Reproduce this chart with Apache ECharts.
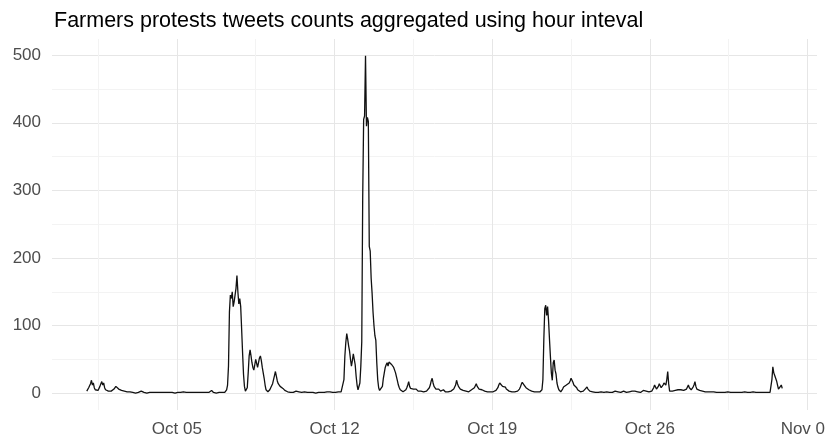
<!DOCTYPE html>
<html>
<head>
<meta charset="utf-8">
<script src="https://cdn.jsdelivr.net/npm/echarts@6/dist/echarts.min.js"></script>
<style>
  html, body { margin: 0; padding: 0; background: #ffffff; }
  #chart { width: 825px; height: 439px; }
</style>
</head>
<body>
<div id="chart"></div>
<script>
// ---- data (hourly tweet counts, UTC) ----
const chartTitle = 'Farmers protests tweets counts aggregated using hour inteval';
const startYear = 2020, startMonth = 9, startDay = 1; // Oct 1 00:00 UTC

const oct01 = [3,5,8,10,14,19,12,15,8,5,4,3,4,6,10,14,17,12,15,8,5,4,3,3];
const oct02 = [3,2,3,2,4,6,8,10,12,9,6,5,5,4,4,3,3,2,2,2,3,2,2,1];
const oct03 = [2,1,1,1,0,1,1,1,1,2,3,4,2,1,1,1,0,1,1,1,1,0,1,1];
const oct04 = [1,1,0,1,1,1,0,1,1,1,1,1,0,1,1,1,1,0,1,1,1,1,0,1];
const oct05 = [1,1,0,1,1,1,1,2,4,2,1,1,0,1,1,1,1,1,0,1,1,1,1,1];
const oct06 = [1,1,1,0,1,1,1,1,1,1,1,2,3,4,2,1,1,1,0,1,1,1,1,1];
const oct07 = [1,1,2,1,2,5,12,40,120,145,140,150,128,135,145,155,174,150,132,140,128,95,60,28];
const oct08 = [10,3,2,8,30,55,64,55,45,38,34,42,50,44,38,45,52,55,48,38,30,22,12,5];
const oct09 = [3,2,3,5,8,10,14,20,26,32,25,18,14,12,10,8,9,7,5,4,3,3,2,2];
const oct10 = [2,1,2,1,1,2,3,3,4,3,2,1,1,1,1,1,2,1,1,1,1,1,1,1];
const oct11 = [1,1,1,1,0,1,1,1,1,1,1,1,1,1,1,1,2,3,4,2,1,1,1,1];
const oct12 = [1,1,1,1,2,1,1,2,1,3,20,55,75,88,80,70,62,50,40,48,58,60,42,25];
const oct13 = [12,5,4,15,40,76,290,405,410,499,395,408,402,217,210,170,148,120,100,85,78,45,20,8];
const oct14 = [4,2,3,10,22,30,38,42,45,40,46,48,45,42,44,38,34,30,24,18,12,8,5,3];
const oct15 = [3,2,4,3,5,8,12,17,10,7,5,8,6,7,5,6,4,3,4,2,3,2,3,2];
const oct16 = [2,2,3,2,4,8,12,18,22,15,10,8,6,7,5,6,4,3,4,3,5,3,2,2];
const oct17 = [2,2,3,2,3,4,5,6,8,12,19,14,10,8,6,5,5,4,3,4,3,2,3,2];
const oct18 = [3,4,5,4,6,8,10,14,10,8,6,5,7,5,4,3,3,2,3,2,2,3,2,2];
const oct19 = [2,2,3,2,4,5,8,12,15,17,13,10,8,9,9,6,5,4,3,4,3,2,2,2];
const oct20 = [2,2,3,3,4,6,9,13,16,17,12,10,8,6,7,5,7,4,3,3,2,2,3,2];
const oct21 = [2,1,2,2,3,5,20,80,125,130,115,128,108,80,54,30,19,45,49,34,28,15,9,5];
const oct22 = [3,2,4,6,9,7,10,12,14,12,15,18,22,20,16,12,14,10,8,5,4,3,2,2];
const oct23 = [2,3,4,6,7,9,6,4,3,4,2,2,1,2,1,1,2,1,1,1,2,1,1,1];
const oct24 = [1,1,2,1,3,1,2,1,1,2,1,3,1,1,2,1,1,1,2,1,3,1,2,1];
const oct25 = [1,1,2,1,2,3,2,4,3,2,1,2,3,2,1,2,3,4,3,2,3,4,3,2];
const oct26 = [3,4,3,5,8,12,9,6,8,10,14,11,8,10,12,15,17,12,20,32,14,3,4,3];
const oct27 = [3,2,3,4,3,4,5,6,7,5,4,3,4,5,4,6,8,12,8,6,5,7,9,12];
const oct28 = [17,10,6,7,5,4,3,4,3,2,3,2,4,3,2,2,1,2,1,1,2,1,1,1];
const oct29 = [2,1,1,1,2,1,1,1,1,1,1,2,1,1,1,1,1,1,1,1,1,2,1,1];
const oct30 = [1,1,1,1,1,2,1,1,1,1,1,1,1,1,2,1,1,1,1,1,1,1,1,1];
const oct31 = [1,1,1,2,1,1,1,2,1,3,20,39,30,26,22,18,12,6,4,8,12,7];

const hourlyCounts = [].concat(oct01, oct02, oct03, oct04, oct05, oct06, oct07, oct08,
  oct09, oct10, oct11, oct12, oct13, oct14, oct15, oct16, oct17, oct18, oct19, oct20,
  oct21, oct22, oct23, oct24, oct25, oct26, oct27, oct28, oct29, oct30, oct31);

// x-axis breaks (major, labelled) and minor breaks (midpoints), as [month, day, hour]
const xMajorBreaks = [[9,5,0],[9,12,0],[9,19,0],[9,26,0],[10,2,0]];
const xMinorBreaks = [[9,1,12],[9,8,12],[9,15,12],[9,22,12],[9,29,12]];
const xTickLabels = ['Oct 05','Oct 12','Oct 19','Oct 26','Nov 02'];
const yMajorBreaks = [0,100,200,300,400,500];
const yMinorBreaks = [50,150,250,350,450];

// ---- build ----
const HOUR = 3600 * 1000;
const t0 = Date.UTC(startYear, startMonth, startDay, 0);
const seriesData = hourlyCounts.map((v, i) => [t0 + i * HOUR, v]);
const tEnd = t0 + (hourlyCounts.length - 1) * HOUR;
const xPad = (tEnd - t0) * 0.05;
const xMin = t0 - xPad, xMax = tEnd + xPad;
const yMaxData = Math.max.apply(null, hourlyCounts);
const yPad = (yMaxData - 0) * 0.05;
const yMin = 0 - yPad, yMax = yMaxData + yPad;

const toTs = b => Date.UTC(startYear, b[0], b[1], b[2]);
const xMajorTs = xMajorBreaks.map(toTs);
const xMinorTs = xMinorBreaks.map(toTs);
const labelOf = v => {
  const i = xMajorTs.indexOf(v);
  return i >= 0 ? xTickLabels[i] : '';
};

const FONT = '"Liberation Sans", Arial, sans-serif';
const MAJOR = '#e6e6e6';
const MINOR = '#f3f3f3';

const chart = echarts.init(document.getElementById('chart'), null, { renderer: 'canvas' });
chart.setOption({
  animation: false,
  useUTC: true,
  backgroundColor: '#ffffff',
  title: {
    text: chartTitle,
    left: 49,
    top: 5,
    textStyle: { fontFamily: FONT, fontSize: 21.5, fontWeight: 'normal', color: '#000000' }
  },
  grid: { left: 52, right: 8, top: 39, bottom: 29, containLabel: false, outerBoundsMode: 'none' },
  xAxis: [
    {
      type: 'value', min: xMin, max: xMax, position: 'bottom',
      axisLine: { show: false }, axisTick: { show: false, customValues: xMinorTs },
      axisLabel: { show: false },
      splitLine: { show: true, lineStyle: { color: MINOR, width: 1 } }
    },
    {
      type: 'value', min: xMin, max: xMax, position: 'bottom',
      axisLine: { show: false }, axisTick: { show: false, customValues: xMajorTs },
      axisLabel: {
        show: true, customValues: xMajorTs, margin: 11,
        fontFamily: FONT, fontSize: 17, color: '#4d4d4d',
        formatter: v => labelOf(v)
      },
      splitLine: { show: true, lineStyle: { color: MAJOR, width: 1 } }
    }
  ],
  yAxis: [
    {
      type: 'value', min: yMin, max: yMax,
      axisLine: { show: false }, axisTick: { show: false, customValues: yMinorBreaks },
      axisLabel: { show: false },
      splitLine: { show: true, lineStyle: { color: MINOR, width: 1 } }
    },
    {
      type: 'value', min: yMin, max: yMax, position: 'left',
      axisLine: { show: false }, axisTick: { show: false, customValues: yMajorBreaks },
      axisLabel: {
        show: true, customValues: yMajorBreaks, margin: 11,
        fontFamily: FONT, fontSize: 17, color: '#4d4d4d'
      },
      splitLine: { show: true, lineStyle: { color: MAJOR, width: 1 } }
    }
  ],
  series: [{
    type: 'line',
    xAxisIndex: 1,
    yAxisIndex: 1,
    data: seriesData,
    showSymbol: false,
    symbol: 'none',
    lineStyle: { color: '#111111', width: 1.3 },
    silent: true
  }]
});
</script>
</body>
</html>
